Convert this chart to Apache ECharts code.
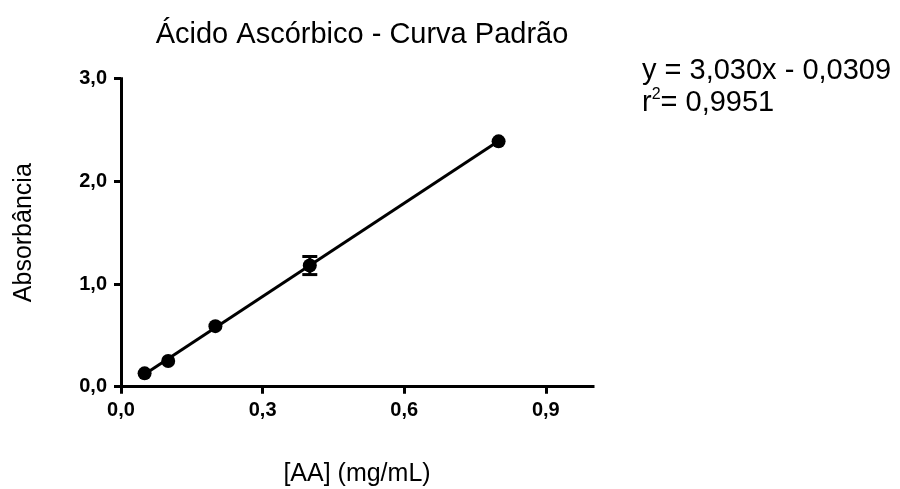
<!DOCTYPE html>
<html>
<head>
<meta charset="utf-8">
<script src="https://cdn.jsdelivr.net/npm/echarts@6/dist/echarts.min.js"></script>
<style>
  html, body { margin: 0; padding: 0; background: #fff; }
  #chart { width: 900px; height: 489px; }
</style>
</head>
<body>
<div id="chart"></div>
<script>
// Standard curve for ascorbic acid: concentration (mg/mL) vs absorbance
const concentrations = [0.05, 0.1, 0.2, 0.4, 0.8];
const absorbances = [0.13, 0.25, 0.59, 1.18, 2.39];
const absErrors = [0, 0, 0, 0.088, 0];

// Linear regression result
const slope = 3.030;
const intercept = -0.0309;
const rSquared = 0.9951;

// Axis ticks
const xTickValues = [0, 0.3, 0.6, 0.9];
const xTickLabels = ['0,0', '0,3', '0,6', '0,9'];
const yTickValues = [0, 1, 2, 3];
const yTickLabels = ['0,0', '1,0', '2,0', '3,0'];

const FONT = 'Liberation Sans, Arial, sans-serif';
const fmt = (v, d) => v.toFixed(d).replace('.', ',');

const points = concentrations.map((x, i) => [x, absorbances[i]]);
const errorData = concentrations.map((x, i) => [x, absorbances[i] - absErrors[i], absorbances[i] + absErrors[i]])
  .filter((d, i) => absErrors[i] > 0);
const xFirst = concentrations[0];
const xLast = concentrations[concentrations.length - 1];
const fitLine = [[xFirst, slope * xFirst + intercept], [xLast, slope * xLast + intercept]];

const equationText = 'y = ' + fmt(slope, 3) + 'x - ' + fmt(Math.abs(intercept), 4);
const r2Text = '= ' + fmt(rSquared, 4);

const chart = echarts.init(document.getElementById('chart'), null, { renderer: 'canvas' });

const axisCommon = {
  axisLine: { show: true, onZero: true, lineStyle: { color: '#000', width: 3, cap: 'square' } },
  axisTick: { show: true, inside: false, length: 7, lineStyle: { color: '#000', width: 3 } },
  splitLine: { show: false },
  nameLocation: 'middle',
  nameTextStyle: { fontFamily: FONT, fontSize: 25, color: '#000' }
};

chart.setOption({
  backgroundColor: '#fff',
  animation: false,
  title: {
    text: 'Ácido Ascórbico - Curva Padrão',
    left: 357,
    textAlign: 'center',
    top: 15,
    textStyle: { fontFamily: FONT, fontSize: 29, fontWeight: 'normal', color: '#000' }
  },
  grid: {
    left: 121, top: 78.7, right: 307, bottom: 102.3,
    outerBoundsMode: 'none', containLabel: false
  },
  xAxis: Object.assign({}, axisCommon, {
    type: 'value',
    min: 0, max: 1.0, interval: 0.3,
    name: '[AA] (mg/mL)',
    nameGap: 75,
    axisTick: Object.assign({}, axisCommon.axisTick, { customValues: xTickValues }),
    axisLabel: {
      customValues: xTickValues,
      margin: 14,
      fontFamily: FONT, fontSize: 20, fontWeight: 'bold', color: '#000',
      formatter: v => xTickLabels[xTickValues.findIndex(t => Math.abs(t - v) < 1e-9)] || ''
    }
  }),
  yAxis: Object.assign({}, axisCommon, {
    type: 'value',
    min: 0, max: 3, interval: 1,
    name: 'Absorbância',
    nameGap: 84,
    axisTick: Object.assign({}, axisCommon.axisTick, { customValues: yTickValues }),
    axisLabel: {
      customValues: yTickValues,
      margin: 14,
      fontFamily: FONT, fontSize: 20, fontWeight: 'bold', color: '#000',
      formatter: v => yTickLabels[yTickValues.findIndex(t => Math.abs(t - v) < 1e-9)] || ''
    }
  }),
  graphic: [{
    type: 'text',
    left: 642,
    top: 56,
    style: {
      text: '{a|' + equationText + '}\n{a|r}{s|2}{a|' + r2Text + '}',
      rich: {
        a: { fontFamily: FONT, fontSize: 29, lineHeight: 32, fill: '#000' },
        s: { fontFamily: FONT, fontSize: 16, lineHeight: 12, verticalAlign: 'top', fill: '#000' }
      }
    }
  }],
  series: [
    {
      type: 'line',
      data: fitLine,
      showSymbol: false,
      symbol: 'none',
      lineStyle: { color: '#000', width: 3 },
      z: 2,
      silent: true
    },
    {
      type: 'custom',
      data: errorData,
      z: 3,
      renderItem: function (params, api) {
        const x = api.value(0);
        const lo = api.coord([x, api.value(1)]);
        const hi = api.coord([x, api.value(2)]);
        const half = 7.5;
        const style = { stroke: '#000', lineWidth: 3, fill: null };
        return {
          type: 'group',
          children: [
            { type: 'line', shape: { x1: lo[0], y1: lo[1], x2: hi[0], y2: hi[1] }, style: style },
            { type: 'line', shape: { x1: lo[0] - half, y1: lo[1], x2: lo[0] + half, y2: lo[1] }, style: style },
            { type: 'line', shape: { x1: hi[0] - half, y1: hi[1], x2: hi[0] + half, y2: hi[1] }, style: style }
          ]
        };
      }
    },
    {
      type: 'scatter',
      data: points,
      symbol: 'circle',
      symbolSize: 14,
      itemStyle: { color: '#000', opacity: 1 },
      z: 4
    }
  ]
});
</script>
</body>
</html>
